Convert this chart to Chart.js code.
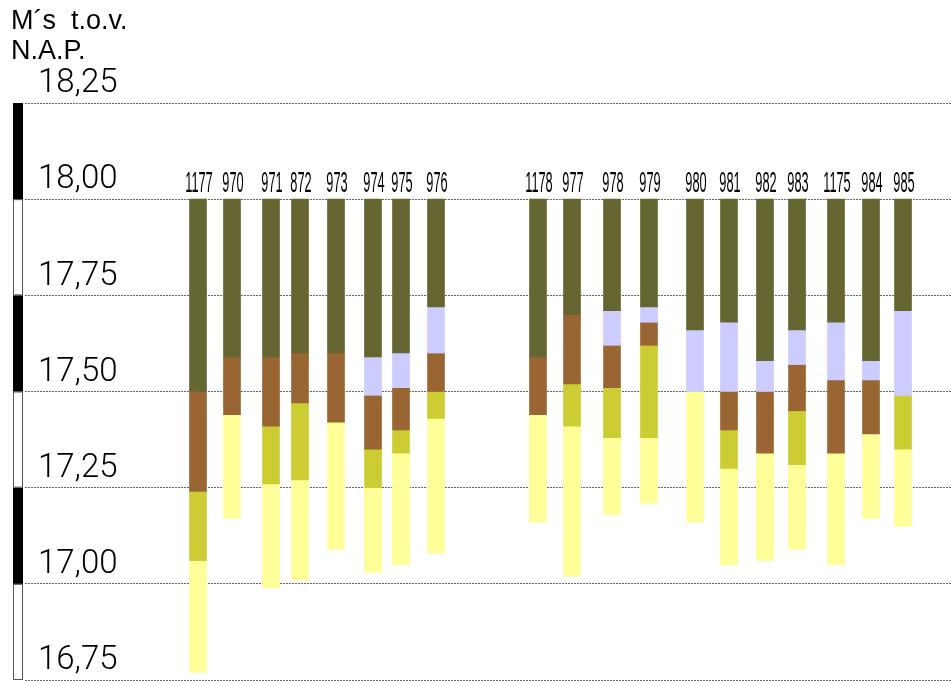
<!DOCTYPE html>
<html lang="nl">
<head>
<meta charset="utf-8">
<title>Boorprofielen</title>
<script src="https://cdn.jsdelivr.net/npm/chart.js@4.4.1/dist/chart.umd.min.js"></script>
<style>
  html, body { margin: 0; padding: 0; background: #fff; }
  canvas { display: block; }
</style>
</head>
<body>
<canvas id="profiel" width="951" height="681"></canvas>
<script>
// boringen en hun plaats langs het profiel
const boringen = ['1177', '970', '971', '872', '973', '974', '975', '976',
  '1178', '977', '978', '979', '980', '981', '982', '983', '1175', '984', '985'];
const afstand = [173, 207, 246, 275, 311, 348, 376, 411,
  513, 547, 587, 624, 670, 704, 740, 772, 811, 846, 878];

// bovenkant van alle boringen (m t.o.v. N.A.P.)
const maaiveld = 18.00;

// onderkant van elke laag per boring, null = laag ontbreekt
const onderkantOlijf = [17.50, 17.59, 17.59, 17.60, 17.60, 17.59, 17.60, 17.72,
  17.59, 17.70, 17.71, 17.72, 17.66, 17.68, 17.58, 17.66, 17.68, 17.58, 17.71];
const onderkantLila = [null, null, null, null, null, 17.49, 17.51, 17.60,
  null, null, 17.62, 17.68, 17.50, 17.50, 17.50, 17.57, 17.53, 17.53, 17.49];
const onderkantBruin = [17.24, 17.44, 17.41, 17.47, 17.42, 17.35, 17.40, 17.50,
  17.44, 17.52, 17.51, 17.62, null, 17.40, 17.34, 17.45, 17.34, 17.39, null];
const onderkantGeelgroen = [17.06, null, 17.26, 17.27, null, 17.25, 17.34, 17.43,
  null, 17.41, 17.38, 17.38, null, 17.30, null, 17.31, null, null, 17.35];
const onderkantGeel = [16.77, 17.17, 16.99, 17.01, 17.09, 17.03, 17.05, 17.08,
  17.16, 17.02, 17.18, 17.21, 17.16, 17.05, 17.06, 17.09, 17.05, 17.17, 17.15];

const yTicks = [16.75, 17.00, 17.25, 17.50, 17.75, 18.00, 18.25];

const lagen = [
  { onderkant: onderkantOlijf, kleur: '#666633' },
  { onderkant: onderkantLila, kleur: '#ccccff' },
  { onderkant: onderkantBruin, kleur: '#996633' },
  { onderkant: onderkantGeelgroen, kleur: '#cccc33' },
  { onderkant: onderkantGeel, kleur: '#ffff99' }
];

const datasets = lagen.map((laag) => ({
  data: [],
  backgroundColor: laag.kleur,
  borderWidth: 0,
  barThickness: 17,
  grouped: false
}));

boringen.forEach((naam, i) => {
  let boven = maaiveld;
  lagen.forEach((laag, j) => {
    const onder = laag.onderkant[i];
    if (onder == null) return;
    datasets[j].data.push({ x: afstand[i], y: [onder, boven] });
    boven = onder;
  });
});

// zwart-wit maatstok langs de y-as
const maatstok = {
  id: 'maatstok',
  afterDraw(chart) {
    const s = chart.scales.y;
    const ctx = chart.ctx;
    ctx.save();
    for (let i = 0; i < yTicks.length - 1; i++) {
      const y1 = s.getPixelForValue(yTicks[i + 1]);
      const y2 = s.getPixelForValue(yTicks[i]);
      if (i % 2 === 1) {
        ctx.fillStyle = '#000';
        ctx.fillRect(13, y1, 10, y2 - y1);
      } else {
        ctx.strokeStyle = '#555';
        ctx.lineWidth = 1;
        ctx.strokeRect(13.5, y1 + 0.5, 9, y2 - y1 - 1);
      }
    }
    ctx.restore();
  }
};

// boringnummers boven de kolommen
const boringLabels = {
  id: 'boringLabels',
  afterDatasetsDraw(chart) {
    const ctx = chart.ctx;
    const meta = chart.getDatasetMeta(0);
    ctx.save();
    ctx.font = '29px "Liberation Sans", Arial, sans-serif';
    ctx.fillStyle = '#000';
    ctx.textAlign = 'center';
    ctx.textBaseline = 'alphabetic';
    meta.data.forEach((el, i) => {
      const top = Math.min(el.y, el.base);
      ctx.save();
      ctx.translate(el.x + 1, top - 7);
      ctx.scale(0.44, 1);
      ctx.fillText(boringen[i], 0, 0);
      ctx.restore();
    });
    ctx.restore();
  }
};

new Chart(document.getElementById('profiel'), {
  type: 'bar',
  data: { datasets },
  options: {
    responsive: false,
    animation: false,
    layout: { padding: { left: 11, right: 0, top: 0, bottom: 1 } },
    plugins: {
      legend: { display: false },
      tooltip: { enabled: false },
      title: {
        display: true,
        align: 'start',
        text: ['M´s  t.o.v.', 'N.A.P.'],
        color: '#000',
        font: { family: '"Liberation Sans", Arial, sans-serif', size: 27, weight: 'normal', lineHeight: '30px' },
        padding: { top: 7, bottom: 36 }
      }
    },
    scales: {
      x: { type: 'linear', display: false, offset: false, min: 0, max: 926 },
      y: {
        min: 16.75,
        max: 18.25,
        afterBuildTicks: (s) => { s.ticks = yTicks.map((v) => ({ value: v })); },
        afterFit: (s) => {
          s.width = 14;
          s.paddingTop = 0;
          s.paddingBottom = 0;
        },
        grid: { color: '#666', lineWidth: 1, drawTicks: false },
        border: { display: false, dash: [2, 1] },
        ticks: {
          mirror: true,
          padding: 13,
          labelOffset: -19,
          color: '#000',
          font: { family: 'Roboto, "Liberation Sans", sans-serif', size: 33, weight: 300 },
          callback: (v) => v.toFixed(2).replace('.', ',')
        }
      }
    }
  },
  plugins: [maatstok, boringLabels]
});
</script>
</body>
</html>
